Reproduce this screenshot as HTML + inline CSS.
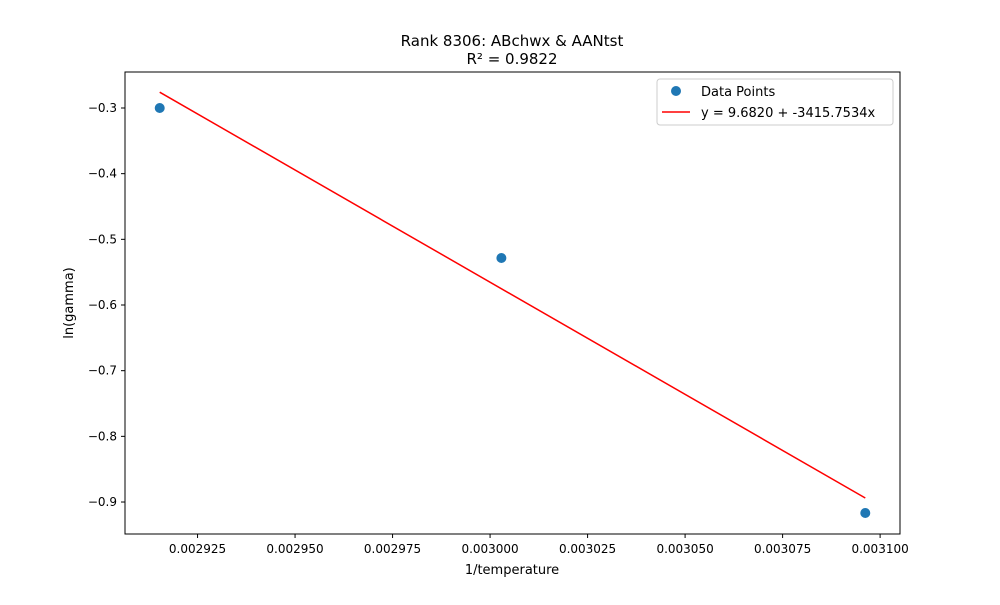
<!DOCTYPE html>
<html><head><meta charset="utf-8"><style>
body{margin:0;background:#fff;}
svg text{font-family:"DejaVu Sans","Liberation Sans",sans-serif;fill:#000;}
</style></head><body>
<svg id="chart" width="1000" height="600" xmlns="http://www.w3.org/2000/svg">
<rect width="1000" height="600" fill="#fff"/>
<g id="marks"></g>
<rect x="125" y="72" width="775" height="462" fill="none" stroke="#000" stroke-width="1"/>
<g id="axes"></g>
<text x="512" y="46" text-anchor="middle" font-size="15">Rank 8306: ABchwx &amp; AANtst</text>
<text x="512" y="64" text-anchor="middle" font-size="15">R² = 0.9822</text>
<text x="512" y="574" text-anchor="middle" font-size="13">1/temperature</text>
<text transform="translate(73,303) rotate(-90)" text-anchor="middle" font-size="13">ln(gamma)</text>
<g>
<rect x="657" y="79" width="236" height="46" rx="3" fill="#fff" stroke="#ccc"/>
<circle cx="676" cy="91" r="5" fill="#1f77b4"/>
<text x="701" y="96" font-size="13">Data Points</text>
<line x1="662" y1="112" x2="690" y2="112" stroke="red" stroke-width="1.5"/>
<text x="701" y="117" font-size="13">y = 9.6820 + -3415.7534x</text>
</g>
</svg>
<script>
const xValues=[0.0029153,0.0030029,0.0030962];
const yValues=[-0.300,-0.5284,-0.9167];
const intercept=9.6820, slope=-3415.7534;
const xTicks=[0.002925,0.002950,0.002975,0.003000,0.003025,0.003050,0.003075,0.003100];
const xTickLabels=["0.002925","0.002950","0.002975","0.003000","0.003025","0.003050","0.003075","0.003100"];
const yTicks=[-0.3,-0.4,-0.5,-0.6,-0.7,-0.8,-0.9];
const yTickLabels=["−0.3","−0.4","−0.5","−0.6","−0.7","−0.8","−0.9"];
const NS="http://www.w3.org/2000/svg";
const X0=0.0029064,X1=0.0031051,Y0=-0.9487,Y1=-0.2452;
const sx=v=>125+(v-X0)/(X1-X0)*775;
const sy=v=>534-(v-Y0)/(Y1-Y0)*462;
function mk(t,a,p){const e=document.createElementNS(NS,t);for(const k in a)e.setAttribute(k,a[k]);p.appendChild(e);return e;}
const marks=document.getElementById('marks'),axes=document.getElementById('axes');
const xmin=Math.min(...xValues),xmax=Math.max(...xValues);
const fl=mk('line',{x1:sx(xmin),y1:sy(intercept+slope*xmin),x2:sx(xmax),y2:sy(intercept+slope*xmax),stroke:'red','stroke-width':1.5},marks);


xValues.forEach((x,i)=>{const c=mk('circle',{cx:sx(x),cy:sy(yValues[i]),r:5,fill:'#1f77b4'},marks);

});
xTicks.forEach((v,i)=>{const x=sx(v);mk('line',{x1:x,y1:534,x2:x,y2:538,stroke:'#000'},axes);
const t=mk('text',{x:x,y:553,'text-anchor':'middle','font-size':12},axes);t.textContent=xTickLabels[i];

});
yTicks.forEach((v,i)=>{const y=sy(v);mk('line',{x1:121,y1:y,x2:125,y2:y,stroke:'#000'},axes);
const t=mk('text',{x:117,y:y+4,'text-anchor':'end','font-size':12},axes);t.textContent=yTickLabels[i];

});
</script>
</body></html>
